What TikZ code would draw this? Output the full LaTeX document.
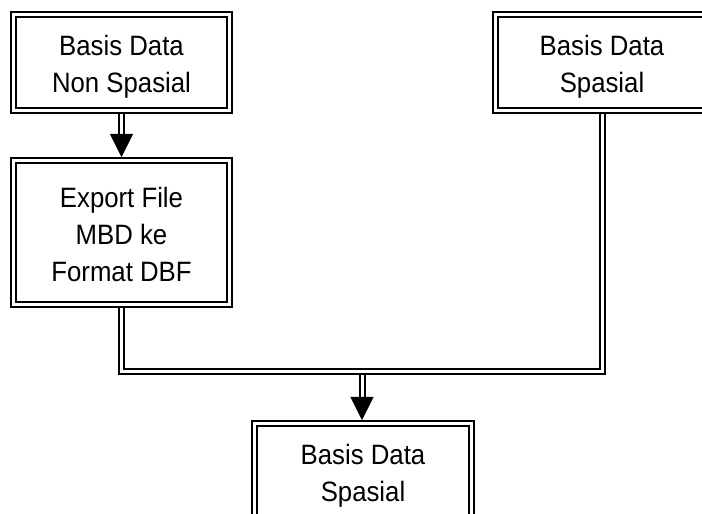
\documentclass[tikz,border=0pt]{standalone}
\usepackage{fontspec}
\setmainfont{Liberation Sans}
\newfontfamily\boxfont[FakeStretch=0.92]{Liberation Sans}
\usetikzlibrary{arrows.meta}
\newcommand\toprl{\rule{0pt}{30pt}}
\newcommand\botrl{\rule[-6pt]{0pt}{6pt}}
\tikzset{
  box/.style={draw, double, line width=2pt, double distance=3pt, outer sep=3.5pt,
    align=center, inner sep=0pt, font=\boxfont\fontsize{28}{37}\selectfont},
  dbl/.style={draw, double, line width=2pt, double distance=3pt, line join=miter},
  tip/.style={-{Triangle[length=23pt,width=23pt]}, line width=0.4pt}
}
\begin{document}
\begin{tikzpicture}[x=1pt,y=1pt]
\clip (0,0) rectangle (702,514);
\fill[white] (0,0) rectangle (702,514);
\node[box, minimum width=216pt, minimum height=96pt] (b1) at (121.5,451.5) {\toprl Basis Data\\Non Spasial\botrl};
\node[box, minimum width=216pt, minimum height=144pt] (b2) at (121.5,281.5) {\toprl Export File\\MBD ke\\Format DBF\botrl};
\node[box, minimum width=213pt, minimum height=96pt] (b3) at (602,451.5) {\toprl Basis Data\\Spasial\botrl};
\node[box, minimum width=217pt, minimum height=95pt] (b4) at (363,43) {\toprl Basis Data\\Spasial\botrl};
\coordinate (j) at (362,142);
\coordinate (jb) at (362,138.5);
% Non Spasial -> Export
\draw[dbl] (b1.south) -- ([yshift=22pt]b2.north);
\draw[tip] ([yshift=23pt]b2.north) -- (b2.north);
% merge
\draw[dbl] (b2.south) -- (b2.south |- j) -- (b3.south |- j) -- (b3.south);
\draw[dbl] (jb) -- ([yshift=22pt]b4.north -| jb);
\draw[tip] ([yshift=23pt]b4.north -| jb) -- (b4.north -| jb);
\end{tikzpicture}
\end{document}
